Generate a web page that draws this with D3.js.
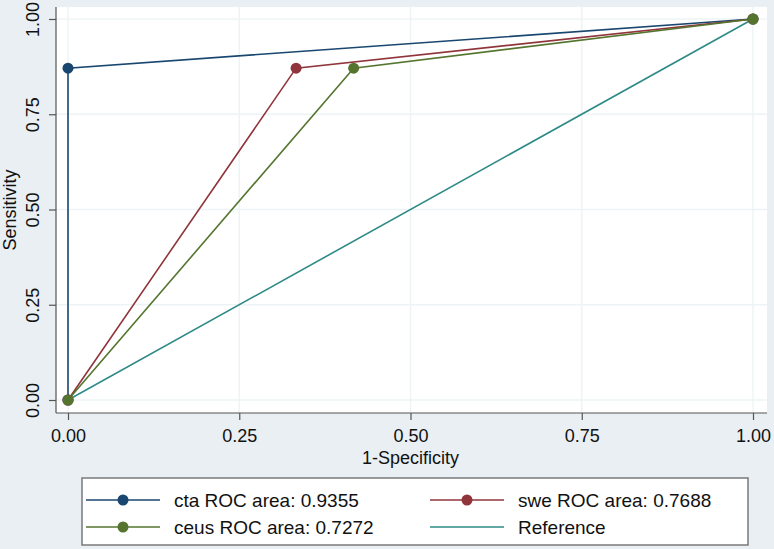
<!DOCTYPE html>
<html><head><meta charset="utf-8">
<script src="https://cdn.jsdelivr.net/npm/d3@7"></script>
<style>body{margin:0;background:#e9eff2;} svg{display:block;font-family:"Liberation Sans",Arial,sans-serif;}</style>
</head><body>
<script>
const seriesNames = ["cta ROC area: 0.9355", "swe ROC area: 0.7688", "ceus ROC area: 0.7272", "Reference"];
const seriesColors = ["#1a476f", "#90353b", "#55752f", "#2e8a86"];
const ctaX = [0, 0, 1], ctaY = [0, 0.871, 1];
const sweX = [0, 0.333, 1], sweY = [0, 0.871, 1];
const ceusX = [0, 0.417, 1], ceusY = [0, 0.871, 1];
const refX = [0, 1], refY = [0, 1];
const xTicks = [0, 0.25, 0.5, 0.75, 1];
const yTicks = [0, 0.25, 0.5, 0.75, 1];

const W = 774, H = 549;
const svg = d3.select("body").append("svg").attr("width", W).attr("height", H);
svg.append("rect").attr("width", W).attr("height", H).attr("fill", "#e9eff2");

const x = d3.scaleLinear().domain([0, 1]).range([68, 753]);
const y = d3.scaleLinear().domain([0, 1]).range([400, 19]);
const pl = 56, pr = 767, pt = 7, pb = 413;
svg.append("rect").attr("x", pl).attr("y", pt).attr("width", pr - pl).attr("height", pb - pt).attr("fill", "#fff");

// grid
svg.append("g").selectAll("line").data(yTicks).join("line")
  .attr("x1", pl).attr("x2", pr).attr("y1", d => y(d)).attr("y2", d => y(d))
  .attr("stroke", "#eef4f5").attr("stroke-width", 1.5);
svg.append("g").selectAll("line").data(xTicks).join("line")
  .attr("y1", pt).attr("y2", pb).attr("x1", d => x(d)).attr("x2", d => x(d))
  .attr("stroke", "#eef4f5").attr("stroke-width", 1.5);

// axes
const fmt = d3.format(".2f");
const xAxis = svg.append("g").attr("transform", `translate(0,${pb})`)
  .call(d3.axisBottom(x).tickValues(xTicks).tickFormat(fmt).tickSize(7).tickSizeOuter(0));
xAxis.select(".domain").attr("d", `M${pl},0H${pr}`);
const yAxis = svg.append("g").attr("transform", `translate(${pl},0)`)
  .call(d3.axisLeft(y).tickValues(yTicks).tickFormat(fmt).tickSize(7).tickSizeOuter(0));
yAxis.select(".domain").attr("d", `M0,${pt}V${pb}`);
[xAxis, yAxis].forEach(a => {
  a.select(".domain").attr("stroke", "#555").attr("stroke-width", 1.2);
  a.selectAll(".tick line").attr("stroke", "#555").attr("stroke-width", 1.2);
  a.selectAll("text").attr("fill", "#111").attr("font-size", 18).attr("font-family", "Liberation Sans, Arial, sans-serif");
});
xAxis.selectAll("text").attr("dy", null).attr("y", 29);
yAxis.selectAll("text").attr("x", null).attr("dy", null)
  .attr("transform", "translate(-17,0) rotate(-90)").attr("text-anchor", "middle");

svg.append("text").attr("x", x(0.5)).attr("y", 464).attr("text-anchor", "middle")
  .attr("font-size", 18).attr("fill", "#111").text("1-Specificity");
svg.append("text").attr("transform", `translate(16,${(pt + pb) / 2}) rotate(-90)`).attr("text-anchor", "middle")
  .attr("font-size", 18).attr("fill", "#111").text("Sensitivity");

// series
const series = [
  {xs: refX, ys: refY, c: seriesColors[3], markers: false},
  {xs: ceusX, ys: ceusY, c: seriesColors[2], markers: true},
  {xs: sweX, ys: sweY, c: seriesColors[1], markers: true},
  {xs: ctaX, ys: ctaY, c: seriesColors[0], markers: true}
];
const line = d3.line().x(d => x(d[0])).y(d => y(d[1]));
const order = [series[3], series[2], series[1], series[0]];
order.forEach(s => {
  const pts = s.xs.map((v, i) => [v, s.ys[i]]);
  svg.append("path").attr("d", line(pts)).attr("fill", "none").attr("stroke", s.c).attr("stroke-width", 1.6);
});
order.forEach(s => {
  if (!s.markers) return;
  const pts = s.xs.map((v, i) => [v, s.ys[i]]);
  svg.append("g").selectAll("circle").data(pts).join("circle")
    .attr("cx", d => x(d[0])).attr("cy", d => y(d[1])).attr("r", 5.5).attr("fill", s.c);
});

// legend
const lg = svg.append("g");
lg.append("rect").attr("x", 82).attr("y", 478).attr("width", 666).attr("height", 67)
  .attr("fill", "#fff").attr("stroke", "#7a7a7a").attr("stroke-width", 1.5);
const legPos = [[86, 500], [430, 500], [86, 527], [430, 527]];
[0, 1, 2, 3].forEach((i, k) => {
  const [lx, ly] = legPos[k];
  lg.append("line").attr("x1", lx).attr("x2", lx + 74).attr("y1", ly).attr("y2", ly)
    .attr("stroke", seriesColors[i]).attr("stroke-width", 1.6);
  if (i < 3) lg.append("circle").attr("cx", lx + 37).attr("cy", ly).attr("r", 5.5).attr("fill", seriesColors[i]);
  lg.append("text").attr("x", lx + 88).attr("y", ly + 7).attr("font-size", 19).attr("fill", "#111").text(seriesNames[i]);
});
</script>
</body></html>
